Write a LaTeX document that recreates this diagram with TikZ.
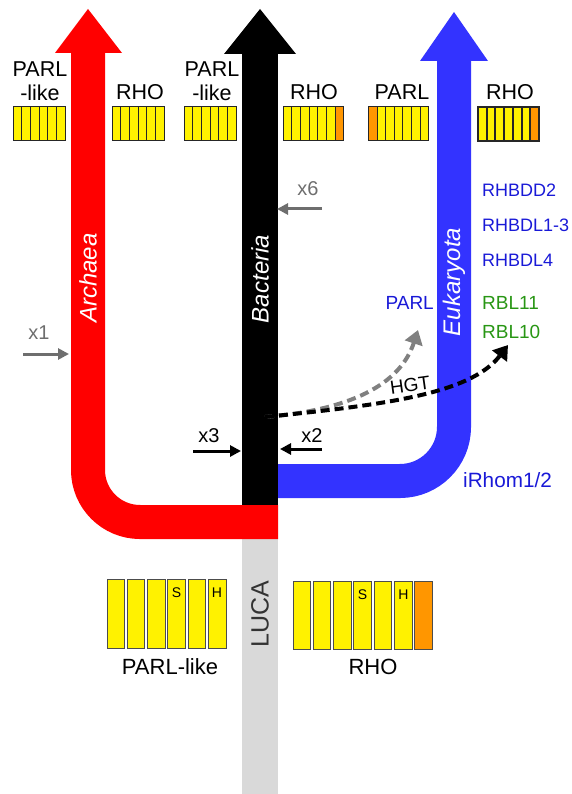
\documentclass[tikz,border=0pt]{standalone}
\usepackage{fontspec}
\setmainfont{Liberation Sans}
\usetikzlibrary{positioning, arrows.meta}
\definecolor{archred}{RGB}{255,0,0}
\definecolor{eukblue}{RGB}{51,51,255}
\definecolor{txtblue}{RGB}{25,25,215}
\definecolor{txtgreen}{RGB}{40,150,20}
\definecolor{tmorange}{RGB}{255,150,0}
\definecolor{lucagray}{RGB}{217,217,217}
\definecolor{hintgray}{RGB}{110,110,110}
\definecolor{hgtgray}{RGB}{128,128,128}
\newcommand{\fsz}[1]{\fontsize{#1}{#1}\selectfont}

\begin{document}
\begin{tikzpicture}[x=1pt, y=-1pt,
  every node/.style={inner sep=0pt},
  lbl/.style={font=\fsz{21.5}, align=center},
  genelbl/.style={font=\fsz{18}, color=txtblue, anchor=west},
  domainlbl/.style={font=\fsz{24}\itshape, color=white, rotate=90},
  seg/.style={fill=yellow, draw=black!85, line width=1pt},
  tm/.style={fill=yellow, draw=black!70, line width=1pt},
  xlbl/.style={font=\fsz{20}},
  xarrow/.style={-{Triangle[length=11pt,width=11pt]}, line width=3pt},
  hgt/.style={-{Triangle[length=14pt,width=18pt]}, line width=4pt,
              dash pattern=on 9pt off 5pt}]
\useasboundingbox (0,0) rectangle (571,794);

% LUCA stem
\fill[lucagray] (242,539) rectangle (278,794);
\node[font=\fsz{25}, color=black!80, rotate=90] (luca) at (260,614) {LUCA};

% Bacteria
\fill[black] (242,54) rectangle (278,505);
\fill[black] (224,54) -- (260,9) -- (296,54) -- cycle;
% Eukaryota
\draw[eukblue, line width=34pt, rounded corners=54pt] (454,61) -- (454,481) -- (278,481);
\fill[eukblue] (420,61) -- (454,12) -- (488,61) -- cycle;
% Archaea
\draw[archred, line width=34pt, rounded corners=52pt] (88,53) -- (88,522) -- (278,522);
\fill[archred] (55,53) -- (88,9) -- (122,53) -- cycle;

\node[domainlbl] (arch) at (88,278) {Archaea};
\node[domainlbl] (bact) at (260,279) {Bacteria};
\node[domainlbl] (euk) at (454,282) {Eukaryota};

% top rows of TM segments
\foreach \x/\n in {13/6, 112/6, 184/6, 283/7, 368/7}
  \foreach \i in {1,...,\n}
    \draw[seg] ({\x+(\i-1)*8.7},107) rectangle ++(8.7,34);
\foreach \i in {1,...,7}
  \draw[seg, line width=2pt] ({478+(\i-1)*8.7},107) rectangle ++(8.7,34);
\draw[seg, fill=tmorange] (335.2,107) rectangle ++(8.7,34);
\draw[seg, fill=tmorange] (368,107) rectangle ++(9,34);
\draw[seg, line width=2pt, fill=tmorange] (530.2,107) rectangle ++(8.7,34);

\node[lbl, anchor=south] (aparl) at (40,101) {PARL\\[3pt]-like};
\node[lbl, anchor=base] (arho) at (140,100) {RHO};
\node[lbl, anchor=south] (bparl) at (212,101) {PARL\\[3pt]-like};
\node[lbl, anchor=base] (brho) at (314,100) {RHO};
\node[lbl, anchor=base] (eparl) at (402,100) {PARL};
\node[lbl, anchor=base] (erho) at (510,100) {RHO};

% eukaryotic rhomboids
\node[genelbl] (rhbdd2) at (482,190) {RHBDD2};
\node[genelbl] (rhbdl13) at (482,225) {RHBDL1-3};
\node[genelbl] (rhbdl4) at (482,260) {RHBDL4};
\node[genelbl, font=\fsz{19}, anchor=east] (parl) at (434,303) {PARL};
\node[genelbl, font=\fsz{19}, color=txtgreen] (rbl11) at (482,303) {RBL11};
\node[genelbl, font=\fsz{19}, color=txtgreen] (rbl10) at (482,332) {RBL10};
\node[genelbl, font=\fsz{20.7}] (irhom) at (463,480) {iRhom1/2};

% losses and gains
\coordinate (x1s) at (23,354);  \coordinate (x1e) at (69,354);
\coordinate (x6s) at (322,209); \coordinate (x6e) at (277,209);
\coordinate (x3s) at (193,451); \coordinate (x3e) at (241,451);
\coordinate (x2s) at (322,449); \coordinate (x2e) at (280,449);
\draw[xarrow, hintgray] (x1s) -- (x1e);
\node[xlbl, color=hintgray] (x1) at (39,333) {x1};
\draw[xarrow, hintgray] (x6s) -- (x6e);
\node[xlbl, color=hintgray] (x6) at (308,189) {x6};
\draw[xarrow] (x3s) -- (x3e);
\node[xlbl] (x3) at (209,436) {x3};
\draw[xarrow] (x2s) -- (x2e);
\node[xlbl] (x2) at (312,436) {x2};

% HGT
\coordinate (hgt0) at (265,417);
\coordinate (hgtparl) at (418,330);
\coordinate (hgtrbl) at (508,345);
\draw[hgt, hgtgray] (hgt0) .. controls (350,410) and (400,385) .. (hgtparl);
\draw[hgt] (hgt0) .. controls (380,405) and (470,395) .. (hgtrbl);
\node[font=\fsz{19}, rotate=8] (hgtlbl) at (410,385) {HGT};

% ancestral TM segments
\foreach \i in {0,...,5}
  \draw[tm] ({107+\i*20.3},579) rectangle ++(17.5,69);
\foreach \i in {0,...,6}
  \draw[tm] ({293+\i*20.3},581) rectangle ++(17.5,68);
\draw[tm, fill=tmorange] (414.8,581) rectangle ++(17.5,68);
\node[font=\fsz{14}] (s1) at (176.6,593) {S};
\node[font=\fsz{14}] (h1) at (217,593) {H};
\node[font=\fsz{14}] (s2) at (362.6,595) {S};
\node[font=\fsz{14}] (h2) at (403.3,595) {H};
\node[lbl, font=\fsz{22}, anchor=base] (lparl) at (170,674) {PARL-like};
\node[lbl, font=\fsz{22}, anchor=base] (lrho) at (373,674) {RHO};
\end{tikzpicture}
\end{document}
